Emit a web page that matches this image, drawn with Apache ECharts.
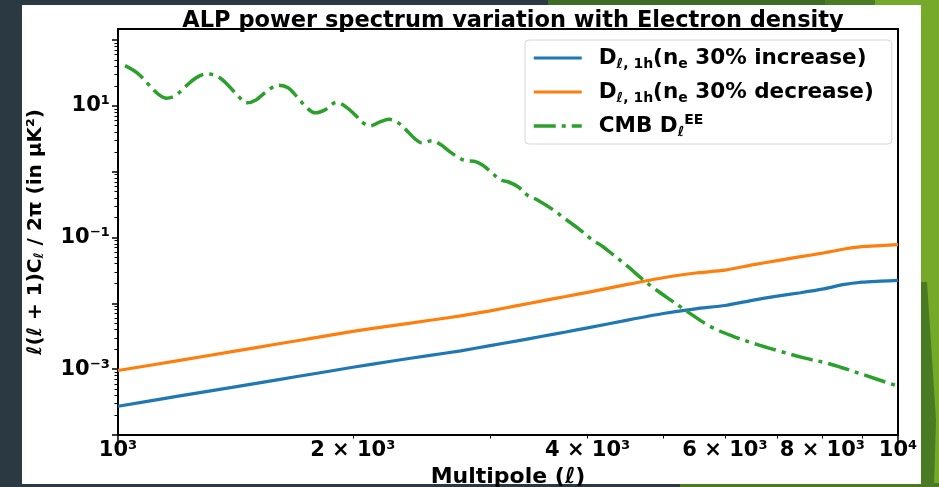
<!DOCTYPE html>
<html>
<head>
<meta charset="utf-8">
<script src="https://cdn.jsdelivr.net/npm/echarts@6/dist/echarts.min.js"></script>
<style>html,body{margin:0;padding:0;background:#2b3a42;}#c{width:939px;height:487px;}</style>
</head>
<body>
<div id="c"></div>
<script>
// ---- data ----
const ellGrid = [1000,1200,1400,1600,1800,2000,2250,2500,2750,3000,3250,3500,3750,4000,4500,5000,5500,6000,6500,7000,7500,8000,8500,9000,9500,10000];
const dIncrease = [2.73e-4,3.92e-4,5.30e-4,6.89e-4,8.67e-4,1.07e-3,1.33e-3,1.61e-3,1.90e-3,2.28e-3,2.69e-3,3.16e-3,3.67e-3,4.24e-3,5.56e-3,7.00e-3,8.26e-3,9.27e-3,1.11e-2,1.29e-2,1.45e-2,1.64e-2,1.92e-2,2.10e-2,2.17e-2,2.23e-2];
const dDecrease = [9.53e-4,1.36e-3,1.85e-3,2.41e-3,3.04e-3,3.76e-3,4.59e-3,5.48e-3,6.44e-3,7.69e-3,9.23e-3,1.09e-2,1.27e-2,1.47e-2,1.94e-2,2.45e-2,2.89e-2,3.19e-2,3.83e-2,4.45e-2,5.11e-2,5.78e-2,6.64e-2,7.25e-2,7.51e-2,7.78e-2];
const cmbEll = [1021,1058,1096,1125,1152,1183,1219,1259,1300,1339,1375,1421,1463,1503,1548,1604,1652,1701,1747,1789,1842,1906,1960,2019,2061,2104,2167,2226,2286,2347,2403,2453,2527,2595,2665,2736,2794,2860,2929,3016,3088,3162,3257,3355,3445,3612,3742,3911,4052,4186,4312,4507,4711,4896,5102,5365,5741,6144,6575,7062,7600,8180,9019,9912];
const cmbDee = [40.9,31.7,20.8,15.2,13.1,14.2,19.4,26.6,30.6,28.5,22.3,14.7,11.1,12.3,16.3,20.5,18.8,13.2,9.33,7.83,8.70,11.3,9.65,7.05,5.52,4.97,5.72,6.24,5.52,4.17,3.16,2.74,2.94,2.56,2.00,1.63,1.46,1.44,1.27,0.962,0.754,0.703,0.590,0.431,0.375,0.264,0.193,0.131,0.0926,0.0725,0.0548,0.0360,0.0229,0.0161,0.0114,0.00756,0.00448,0.00316,0.00240,0.00187,0.00147,0.00120,0.000828,0.000570];

const xTickVals = [1000,2000,4000,6000,8000,10000];
const xTickLabels = ['10³','2 × 10³','4 × 10³','6 × 10³','8 × 10³','10⁴'];
const xMajorTicks = [1000,10000];
const xMinorTicks = [2000,3000,4000,5000,6000,7000,8000,9000];
const yTickVals = [1e-3,1e-1,1e1];
const yTickLabels = ['10⁻³','10⁻¹','10¹'];
const yMajorTicks = [1e-4,1e-3,1e-2,1e-1,1e0,1e1,1e2];
const yMinorTicks = [];
[1e-4,1e-3,1e-2,1e-1,1e0,1e1].forEach(d=>{for(let k=2;k<=9;k++){ if(d*k<=147) yMinorTicks.push(+(d*k).toPrecision(3)); }});

const seriesNames = ['inc','dec','cmb'];
const legendText = {
  inc: '{D|D}{sl|ℓ}{sb|, 1h}{t|(n}{sb|e}{t| 30% increase)}',
  dec: '{D|D}{sl|ℓ}{sb|, 1h}{t|(n}{sb|e}{t| 30% decrease)}',
  cmb: '{t|CMB D}{sl|ℓ}{sp|EE}'
};

const FONT = 'DejaVu Sans';
function pick(vals, labels, v){
  const i = vals.findIndex(t => Math.abs(Math.log10(t) - Math.log10(v)) < 1e-6);
  return i < 0 ? '' : labels[i];
}

const chart = echarts.init(document.getElementById('c'), null, {renderer:'canvas'});
const option = {
  backgroundColor: '#2b3a42',
  animation: false,
  graphic: [
    {type:'polygon', z:-20, shape:{points:[[548,0],[939,0],[939,6],[548,6]]}, style:{fill:'#3e6c24'}},
    {type:'polygon', z:-19, shape:{points:[[825,0],[939,0],[939,6],[825,6]]}, style:{fill:'#4b7d26'}},
    {type:'polygon', z:-18, shape:{points:[[875,0],[939,0],[939,6],[875,6]]}, style:{fill:'#76a82a'}},
    {type:'rect', z:-20, shape:{x:921,y:0,width:18,height:487}, style:{fill:'#76a82a'}},
    {type:'polygon', z:-19, shape:{points:[[921,282],[927,282],[936,420],[934,487],[921,487]]}, style:{fill:'#4a7a24'}},
    {type:'rect', z:-19, shape:{x:680,y:483,width:259,height:4}, style:{fill:'#4a7a24'}},
    {type:'rect', z:-15, shape:{x:22,y:5,width:899,height:479}, style:{fill:'#ffffff'}}
  ],
  title: {
    text: 'ALP power spectrum variation with Electron density',
    left: 508, top: 4, textAlign: 'center',
    textStyle: {fontFamily: FONT, fontWeight: 'bold', fontSize: 22.5, color: '#000', lineHeight: 24}
  },
  grid: {left:118, top:29, width:780, height:406, show:true, backgroundColor:'#fff', borderColor:'#000', borderWidth:2,
    containLabel:false, outerBoundsMode:'none'},
  legend: {
    left: 525, top: 40, orient: 'vertical',
    data: [
      {name:'inc', lineStyle:{width:3.2}},
      {name:'dec', lineStyle:{width:3.2}},
      {name:'cmb', lineStyle:{width:3.5}}
    ],
    itemWidth: 48, itemHeight: 14, itemGap: 8,
    padding: [5, 18, 5, 7],
    itemStyle: {opacity: 0, borderWidth: 0},
    backgroundColor: 'rgba(255,255,255,0.85)', borderColor: '#d6d6d6', borderWidth: 1, borderRadius: 4,
    formatter: n => legendText[n],
    textStyle: {
      fontFamily: FONT, color:'#000', fontSize: 21, fontWeight:'bold', lineHeight: 26, padding:[0,0,0,12],
      rich: {
        D: {fontFamily: FONT, fontSize: 21.5, fontWeight:'bold', color:'#000'},
        t: {fontFamily: FONT, fontSize: 21.5, fontWeight:'bold', color:'#000'},
        sl: {fontFamily: FONT, fontSize: 14, fontStyle:'italic', color:'#000', verticalAlign:'bottom', lineHeight: 14},
        sb: {fontFamily: FONT, fontSize: 14, fontWeight:'bold', color:'#000', verticalAlign:'bottom', lineHeight: 14},
        sp: {fontFamily: FONT, fontSize: 14, fontWeight:'bold', color:'#000', verticalAlign:'top', lineHeight: 14}
      }
    }
  },
  xAxis: [
    {
      type:'log', logBase:10, min:1000, max:10000, gridIndex:0, position:'bottom',
      axisLine:{show:false}, splitLine:{show:false}, minorTick:{show:false},
      axisTick:{show:true, customValues: xMajorTicks, length:6, lineStyle:{color:'#000', width:1.5}},
      axisLabel:{show:true, customValues: xTickVals, formatter: v => pick(xTickVals, xTickLabels, v),
        fontFamily: FONT, fontWeight:'bold', fontSize:21, color:'#000', margin:5, showMinLabel:true, showMaxLabel:true, hideOverlap:false},
      name:'Multipole (ℓ)', nameLocation:'middle', nameGap:30,
      nameTextStyle:{fontFamily: FONT, fontWeight:'bold', fontSize:22, color:'#000'}
    },
    {
      type:'log', logBase:10, min:1000, max:10000, gridIndex:0, position:'bottom', offset:0,
      axisLine:{show:false}, splitLine:{show:false},
      axisTick:{show:true, customValues: xMinorTicks, length:3.5, lineStyle:{color:'#000', width:1}},
      axisLabel:{show:false}
    }
  ],
  yAxis: [
    {
      type:'log', logBase:10, min:1e-4, max:147, gridIndex:0, position:'left',
      axisLine:{show:false}, splitLine:{show:false}, minorTick:{show:false},
      axisTick:{show:true, customValues: yMajorTicks, length:6, lineStyle:{color:'#000', width:1.5}},
      axisLabel:{show:true, customValues: yTickVals, formatter: v => pick(yTickVals, yTickLabels, v),
        fontFamily: FONT, fontWeight:'bold', fontSize:21, color:'#000', margin:8, showMinLabel:true, showMaxLabel:true, hideOverlap:false},
      name:'ℓ(ℓ + 1)C{s|ℓ} / 2π (in μK²)', nameLocation:'middle', nameGap:72, nameRotate:90,
      nameTextStyle:{fontFamily: FONT, fontWeight:'bold', fontSize:20, color:'#000',
        rich:{ s:{fontFamily: FONT, fontSize:13, fontStyle:'italic', color:'#000', verticalAlign:'bottom', lineHeight:14} }}
    },
    {
      type:'log', logBase:10, min:1e-4, max:147, gridIndex:0, position:'left', offset:0,
      axisLine:{show:false}, splitLine:{show:false},
      axisTick:{show:true, customValues: yMinorTicks, length:3.5, lineStyle:{color:'#000', width:1}},
      axisLabel:{show:false}
    }
  ],
  series: [
    {name:'inc', type:'line', xAxisIndex:0, yAxisIndex:0, showSymbol:false, symbol:'none', smooth:0.2,
      data: ellGrid.map((l,i)=>[l, dIncrease[i]]), lineStyle:{color:'#1f77b4', width:3.2}, itemStyle:{color:'#1f77b4'}, z:3},
    {name:'dec', type:'line', xAxisIndex:0, yAxisIndex:0, showSymbol:false, symbol:'none', smooth:0.2,
      data: ellGrid.map((l,i)=>[l, dDecrease[i]]), lineStyle:{color:'#ff7f0e', width:3.2}, itemStyle:{color:'#ff7f0e'}, z:3},
    {name:'cmb', type:'line', xAxisIndex:0, yAxisIndex:0, showSymbol:false, symbol:'none', smooth:0.35,
      data: cmbEll.map((l,i)=>[l, cmbDee[i]]), lineStyle:{color:'#2ca02c', width:3.5, type:[22,6,4,6], cap:'butt'}, itemStyle:{color:'#2ca02c'}, z:3}
  ]
};
chart.setOption(option);
</script>
</body>
</html>
